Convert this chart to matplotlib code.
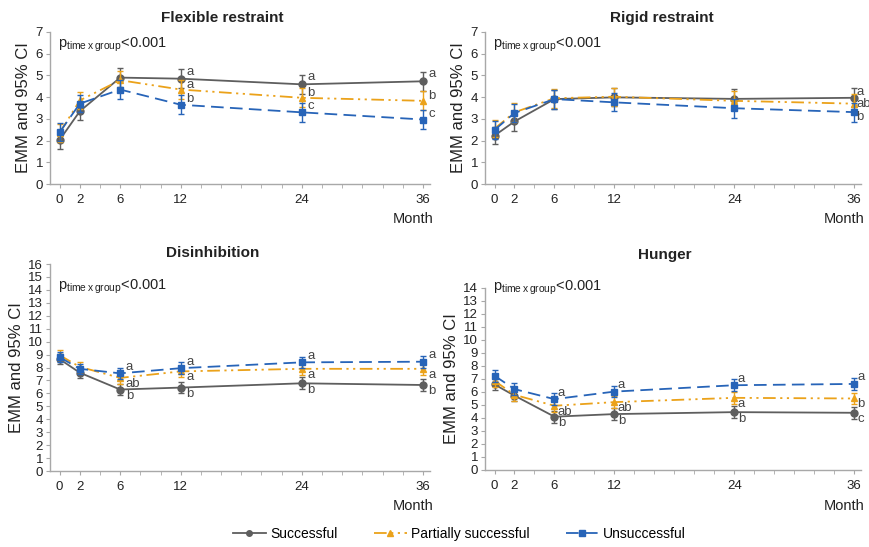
import matplotlib
matplotlib.use('Agg')
from matplotlib import pyplot as plt
from matplotlib.ticker import FixedLocator
from matplotlib.lines import Line2D

plt.rcParams['font.family'] = ['Liberation Sans', 'DejaVu Sans']
plt.rcParams['mathtext.fontset'] = 'custom'
plt.rcParams['mathtext.rm'] = 'Liberation Sans'

months = [0, 2, 6, 12, 24, 36]
month_labels = ['0', '2', '6', '12', '24', '36']
groups = ['Successful', 'Partially successful', 'Unsuccessful']

# Flexible restraint
flex_succ = [2.03, 3.35, 4.90, 4.85, 4.59, 4.73]
flex_part = [2.35, 3.85, 4.78, 4.35, 3.97, 3.83]
flex_unsucc = [2.38, 3.70, 4.35, 3.65, 3.30, 2.97]
flex_ci = [0.42, 0.40, 0.44, 0.44, 0.44, 0.44]
flex_letters = {3: ['a', 'a', 'b'], 4: ['a', 'b', 'c'], 5: ['a', 'b', 'c']}

# Rigid restraint
rigid_succ = [2.23, 2.88, 3.91, 3.99, 3.92, 3.97]
rigid_part = [2.55, 3.30, 3.95, 4.02, 3.83, 3.70]
rigid_unsucc = [2.49, 3.27, 3.91, 3.76, 3.49, 3.31]
rigid_ci = [0.40, 0.43, 0.44, 0.42, 0.44, 0.44]
rigid_letters = {5: ['a', 'ab', 'b']}

# Disinhibition
dis_succ = [8.65, 7.60, 6.30, 6.45, 6.78, 6.65]
dis_part = [8.95, 8.05, 7.20, 7.70, 7.90, 7.90]
dis_unsucc = [8.80, 7.90, 7.55, 7.95, 8.40, 8.45]
dis_ci = [0.40, 0.40, 0.45, 0.45, 0.45, 0.45]
dis_letters = {2: ['b', 'ab', 'a'], 3: ['b', 'a', 'a'], 4: ['b', 'a', 'a'], 5: ['b', 'a', 'a']}

# Hunger
hun_succ = [6.58, 5.72, 4.10, 4.30, 4.45, 4.40]
hun_part = [6.86, 5.78, 4.94, 5.22, 5.55, 5.50]
hun_unsucc = [7.25, 6.22, 5.45, 6.03, 6.52, 6.62]
hun_ci = [0.45, 0.45, 0.45, 0.45, 0.45, 0.45]
hun_letters = {2: ['b', 'ab', 'a'], 3: ['b', 'ab', 'a'], 4: ['b', 'a', 'a'], 5: ['c', 'b', 'a']}

colors = ['#5e5e5e', '#eba21a', '#2764b8']
markers = ['o', '^', 's']
styles = ['-', (0, (7, 2.5, 1.2, 2.5, 1.2, 2.5)), (0, (7, 3.5))]

# letter offsets (dy in data units) per group: succ, part, unsucc
flex_dy = [0.33, 0.2, 0.27]
rigid_dy = [0.27, -0.02, -0.24]
low_dy = [-0.5, -0.45, 0.5]

panels = [
    ('Flexible restraint', [flex_succ, flex_part, flex_unsucc], flex_ci, flex_letters, flex_dy, 7,
     [0.0575, 0.6636, 0.4368, 0.2779], (0.256, 0.967), 0.918, 0.60, 0.55),
    ('Rigid restraint', [rigid_succ, rigid_part, rigid_unsucc], rigid_ci, rigid_letters, rigid_dy, 7,
     [0.5575, 0.6636, 0.4322, 0.2779], (0.761, 0.967), 0.918, 0.60, 0.25),
    ('Disinhibition', [dis_succ, dis_part, dis_unsucc], dis_ci, dis_letters, low_dy, 16,
     [0.0575, 0.1389, 0.4368, 0.3784], (0.245, 0.537), 0.476, 0.075, 0.55),
    ('Hunger', [hun_succ, hun_part, hun_unsucc], hun_ci, hun_letters, low_dy, 14,
     [0.5575, 0.1408, 0.4322, 0.3327], (0.764, 0.534), 0.474, 0.075, 0.35),
]

fig = plt.figure(figsize=(8.7, 5.47), dpi=100)

for title, series, ci, letters, dy, ymax, rect, title_pos, p_y, month_y, dx in panels:
    ax = fig.add_axes(rect)
    for i, vals in enumerate(series):
        ax.errorbar(months, vals, yerr=ci, color=colors[i], marker=markers[i],
                    markersize=5, linestyle=styles[i], linewidth=1.3,
                    elinewidth=1.0, capsize=2, capthick=1.0, zorder=3 + i,
                    clip_on=False)
    for idx, labs in letters.items():
        for i, lab in enumerate(labs):
            ax.text(months[idx] + dx, series[i][idx] + dy[i], lab, fontsize=9.5,
                    color='#444444', ha='left', va='center', zorder=10)

    ax.set_xlim(-0.95, 36.7)
    ax.set_ylim(0, ymax)
    ax.set_yticks(range(0, ymax + 1))
    ax.xaxis.set_major_locator(FixedLocator(months))
    ax.set_xticklabels(month_labels)
    ax.xaxis.set_minor_locator(FixedLocator(range(0, 37, 2)))
    for s in ['top', 'right']:
        ax.spines[s].set_visible(False)
    for s in ['left', 'bottom']:
        ax.spines[s].set_color('#a8a8a8')
        ax.spines[s].set_linewidth(1.0)
    ax.tick_params(axis='both', which='both', direction='out', length=3,
                   color='#a8a8a8', labelsize=9.5, labelcolor='#222222', pad=2)
    ax.tick_params(axis='x', pad=4)
    ax.set_ylabel('EMM and 95% CI', fontsize=12, color='#222222', labelpad=3)

    fig.text(title_pos[0], title_pos[1], title, fontsize=11, fontweight='bold',
             ha='center', va='center', color='#222222')
    fig.text(rect[0] + 0.009, p_y,
             r'p$_{\mathregular{time\,x\,group}}$<0.001', fontsize=10.5,
             ha='left', va='center', color='#222222')
    fig.text(rect[0] + rect[2] + 0.004, month_y, 'Month', fontsize=10.5,
             ha='right', va='center', color='#222222')

handles = [Line2D([], [], color=colors[i], marker=markers[i], markersize=4,
                  linestyle=styles[i], linewidth=1.3) for i in range(3)]
fig.legend(handles, groups, loc='lower center', ncol=3, frameon=False,
           bbox_to_anchor=(0.528, -0.012), columnspacing=2.6, handlelength=2.4,
           handletextpad=0.3, fontsize=10)

fig.savefig('out.png', dpi=100)
